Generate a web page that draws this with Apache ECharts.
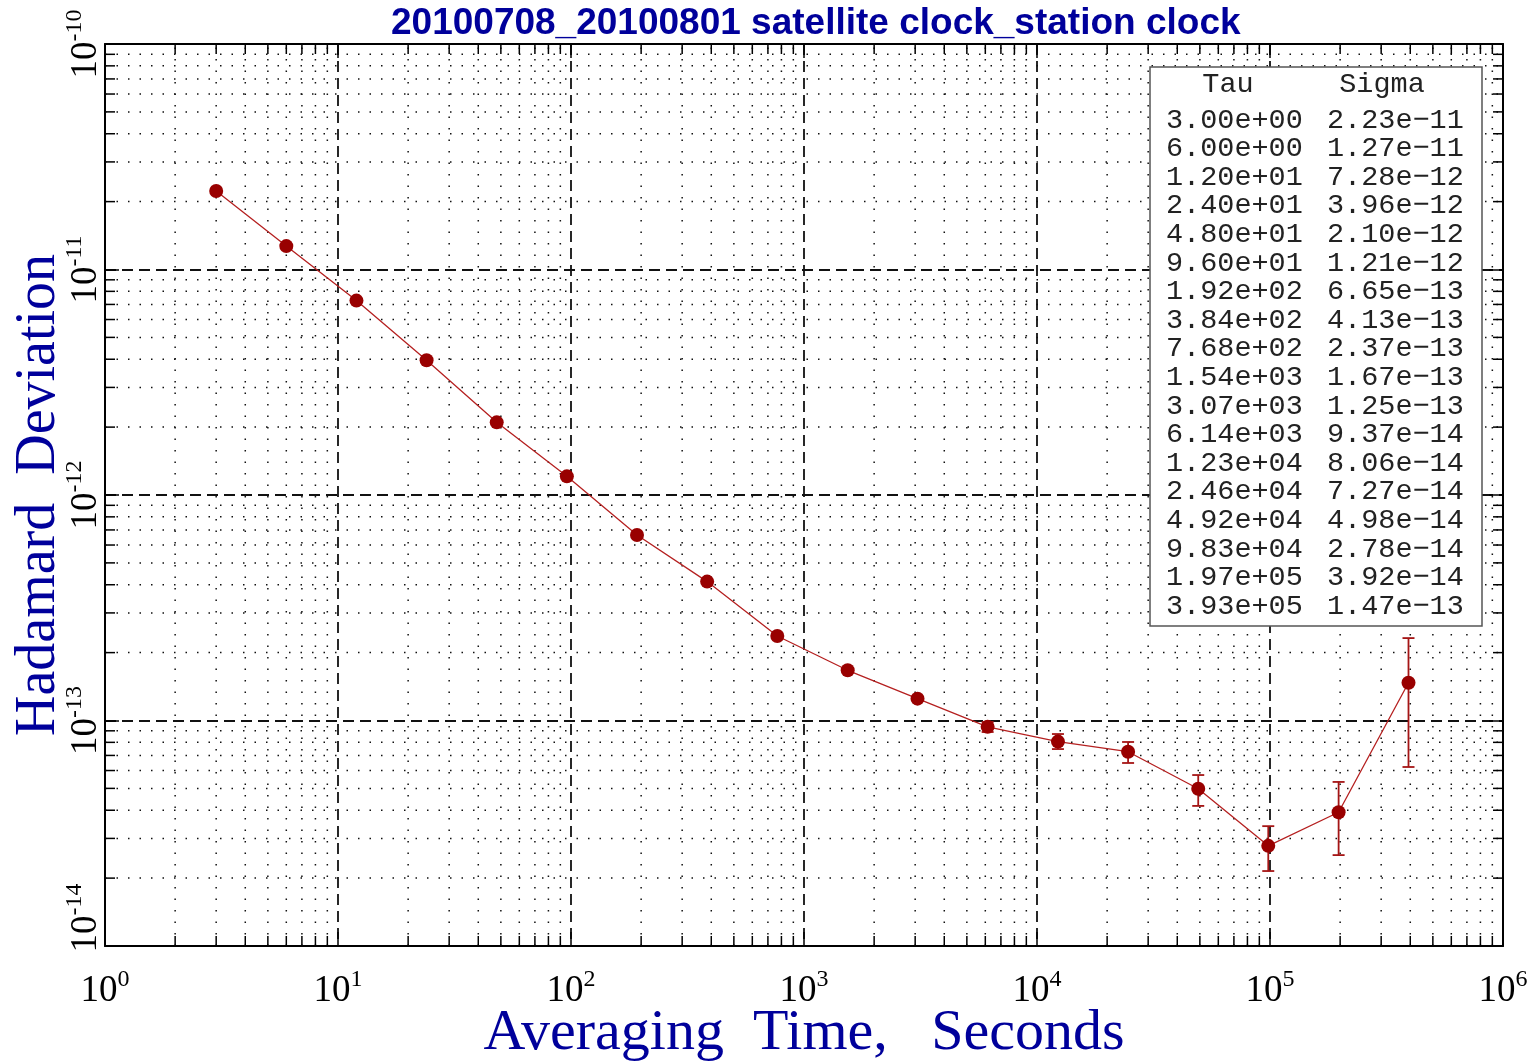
<!DOCTYPE html>
<html>
<head>
<meta charset="utf-8">
<script src="https://cdn.jsdelivr.net/npm/echarts@6/dist/echarts.min.js"></script>
<style>
  html, body { margin: 0; padding: 0; background: #fff; }
  #chart { width: 1538px; height: 1061px; }
</style>
</head>
<body>
<div id="chart"></div>
<script>
// averaging times (s) and Hadamard deviation
const tau = [3, 6, 12, 24, 48, 96, 192, 384, 768, 1540, 3070, 6140,
  12300, 24600, 49200, 98300, 197000, 393000];
const sigma = [2.23e-11, 1.27e-11, 7.28e-12, 3.96e-12, 2.10e-12, 1.21e-12,
  6.65e-13, 4.13e-13, 2.37e-13, 1.67e-13, 1.25e-13, 9.37e-14,
  8.06e-14, 7.27e-14, 4.98e-14, 2.78e-14, 3.92e-14, 1.47e-13];
// error bar ends (null = none visible)
const errLow = [null, null, null, null, null, null, null, null, null, null, null,
  8.89e-14, 7.47e-14, 6.48e-14, 4.18e-14, 2.15e-14, 2.53e-14, 6.22e-14];
const errHigh = [null, null, null, null, null, null, null, null, null, null, null,
  9.85e-14, 8.71e-14, 8.03e-14, 5.73e-14, 3.40e-14, 5.34e-14, 2.32e-13];

const xMin = 1, xMax = 1e6;
const yMin = 1e-14, yMax = 1e-10;
const minorSteps = [2, 3, 4, 5, 6, 7, 8, 9];

const xMinor = [];
for (let e = 0; e < 6; e++) minorSteps.forEach(k => xMinor.push(k * Math.pow(10, e)));
const yMinor = [];
for (let e = -14; e < -10; e++) minorSteps.forEach(k => yMinor.push(k * Math.pow(10, e)));

const BLUE = '#00009b';
const RED = '#990000';
const TABLE_FONT = '28.5px "Liberation Mono"';

function sci(v) {
  const parts = v.toExponential(2).split('e');
  const ex = +parts[1];
  const n = Math.abs(ex);
  return parts[0] + 'e' + (ex < 0 ? '\u2212' : '+') + (n < 10 ? '0' : '') + n;
}

function powLabel(v, shifted) {
  const ex = Math.round(Math.log10(v));
  return '{' + (shifted ? 'bs' : 'b') + '|10}{s|' + ex + '}';
}

const labelRich = {
  b: { fontFamily: 'Liberation Serif', fontSize: 37, color: '#000', lineHeight: 42, verticalAlign: 'bottom' },
  bs: { fontFamily: 'Liberation Serif', fontSize: 37, color: '#000', lineHeight: 42, verticalAlign: 'bottom', padding: [0, 0, 0, 56] },
  s: { fontFamily: 'Liberation Serif', fontSize: 24, color: '#000', lineHeight: 24, verticalAlign: 'top' }
};

// table in the upper right
const tableChildren = [
  { type: 'rect', z: 100, shape: { x: 1150, y: 67, width: 332, height: 559 },
    style: { fill: '#fff', stroke: '#555', lineWidth: 1.5 } },
  { type: 'text', z: 101, x: 1228, y: 84, style: { text: 'Tau', font: TABLE_FONT, fill: '#222', align: 'center', verticalAlign: 'middle' } },
  { type: 'text', z: 101, x: 1382, y: 84, style: { text: 'Sigma', font: TABLE_FONT, fill: '#222', align: 'center', verticalAlign: 'middle' } }
];
tau.forEach((t, i) => {
  const y = 120 + i * 28.6;
  tableChildren.push({ type: 'text', z: 101, x: 1166, y: y, style: { text: sci(t), font: TABLE_FONT, fill: '#222', verticalAlign: 'middle' } });
  tableChildren.push({ type: 'text', z: 101, x: 1327, y: y, style: { text: sci(sigma[i]), font: TABLE_FONT, fill: '#222', verticalAlign: 'middle' } });
});

const gridLine = { stroke: '#111', lineWidth: 1.5, lineDash: [1.5, 10] };
const tickLine = { stroke: '#000', lineWidth: 1.5 };
const majorGrid = { color: '#111', width: 1.8, type: [11, 6] };

const chart = echarts.init(document.getElementById('chart'), null, { renderer: 'canvas' });
chart.setOption({
  animation: false,
  backgroundColor: '#fff',
  title: {
    text: '20100708_20100801 satellite clock_station clock',
    left: 386, top: 0,
    textStyle: { fontFamily: 'Liberation Sans', fontWeight: 'bold', fontSize: 37, color: BLUE }
  },
  grid: { left: 105, right: 35, top: 44, bottom: 115, containLabel: false, outerBoundsMode: 'none' },
  xAxis: [{
    type: 'log', logBase: 10, min: xMin, max: xMax, splitNumber: 6,
    name: 'Averaging  Time,   Seconds', nameLocation: 'middle', nameGap: 59, nameMoveOverlap: false,
    nameTextStyle: { fontFamily: 'Liberation Serif', fontSize: 58, color: BLUE },
    axisLine: { onZero: false, lineStyle: { color: '#000', width: 2 } },
    axisTick: { inside: true, length: 14, lineStyle: { color: '#000', width: 1.5 } },
    axisLabel: { margin: 22, formatter: v => powLabel(v), rich: labelRich },
    splitLine: { show: true, lineStyle: majorGrid }
  }, {
    type: 'log', logBase: 10, min: xMin, max: xMax, splitNumber: 6, position: 'top',
    axisLine: { onZero: false, lineStyle: { color: '#000', width: 2 } },
    axisTick: { inside: true, length: 14, lineStyle: { color: '#000', width: 1.5 } },
    axisLabel: { show: false }, splitLine: { show: false }
  }],
  yAxis: [{
    type: 'log', logBase: 10, min: yMin, max: yMax, splitNumber: 4,
    name: 'Hadamard  Deviation', nameLocation: 'middle', nameGap: 38, nameRotate: 90, nameMoveOverlap: false,
    nameTextStyle: { fontFamily: 'Liberation Serif', fontSize: 56, color: BLUE },
    axisLine: { onZero: false, lineStyle: { color: '#000', width: 2 } },
    axisTick: { inside: true, length: 14, lineStyle: { color: '#000', width: 1.5 } },
    axisLabel: { rotate: 90, margin: 0, formatter: v => powLabel(v, Math.round(Math.log10(v)) === -14), rich: labelRich },
    splitLine: { show: true, lineStyle: majorGrid }
  }, {
    type: 'log', logBase: 10, min: yMin, max: yMax, splitNumber: 4, position: 'right',
    axisLine: { onZero: false, lineStyle: { color: '#000', width: 2 } },
    axisTick: { inside: true, length: 14, lineStyle: { color: '#000', width: 1.5 } },
    axisLabel: { show: false }, splitLine: { show: false }
  }],
  graphic: [{ type: 'group', z: 100, children: tableChildren }],
  series: [{
    type: 'custom', silent: true, z: 1,
    data: xMinor.map(v => [v, yMin]),
    encode: { x: 0, y: 1 },
    renderItem: (params, api) => {
      const v = api.value(0);
      const b = api.coord([v, yMin]);
      const t = api.coord([v, yMax]);
      return { type: 'group', children: [
        { type: 'line', shape: { x1: b[0], y1: b[1], x2: t[0], y2: t[1] }, style: gridLine },
        { type: 'line', shape: { x1: b[0], y1: b[1], x2: b[0], y2: b[1] - 10 }, style: tickLine },
        { type: 'line', shape: { x1: t[0], y1: t[1], x2: t[0], y2: t[1] + 10 }, style: tickLine }
      ] };
    }
  }, {
    type: 'custom', silent: true, z: 1,
    data: yMinor.map(v => [xMin, v]),
    encode: { x: 0, y: 1 },
    renderItem: (params, api) => {
      const v = api.value(1);
      const l = api.coord([xMin, v]);
      const r = api.coord([xMax, v]);
      return { type: 'group', children: [
        { type: 'line', shape: { x1: l[0], y1: l[1], x2: r[0], y2: r[1] }, style: gridLine },
        { type: 'line', shape: { x1: l[0], y1: l[1], x2: l[0] + 10, y2: l[1] }, style: tickLine },
        { type: 'line', shape: { x1: r[0], y1: r[1], x2: r[0] - 10, y2: r[1] }, style: tickLine }
      ] };
    }
  }, {
    type: 'custom', silent: true, z: 3,
    data: tau.map((t, i) => [t, errLow[i], errHigh[i]]).filter(d => d[1] !== null),
    encode: { x: 0, y: [1, 2] },
    renderItem: (params, api) => {
      const x = api.value(0);
      const lo = api.coord([x, api.value(1)]);
      const hi = api.coord([x, api.value(2)]);
      const st = { stroke: '#a51515', lineWidth: 1.8 };
      return { type: 'group', children: [
        { type: 'line', shape: { x1: lo[0], y1: lo[1], x2: hi[0], y2: hi[1] }, style: st },
        { type: 'line', shape: { x1: lo[0] - 6, y1: lo[1], x2: lo[0] + 6, y2: lo[1] }, style: st },
        { type: 'line', shape: { x1: hi[0] - 6, y1: hi[1], x2: hi[0] + 6, y2: hi[1] }, style: st }
      ] };
    }
  }, {
    type: 'line', z: 4,
    data: tau.map((t, i) => [t, sigma[i]]),
    symbol: 'circle', symbolSize: 14,
    itemStyle: { color: RED },
    lineStyle: { color: '#b52020', width: 1.3 }
  }]
});
</script>
</body>
</html>
